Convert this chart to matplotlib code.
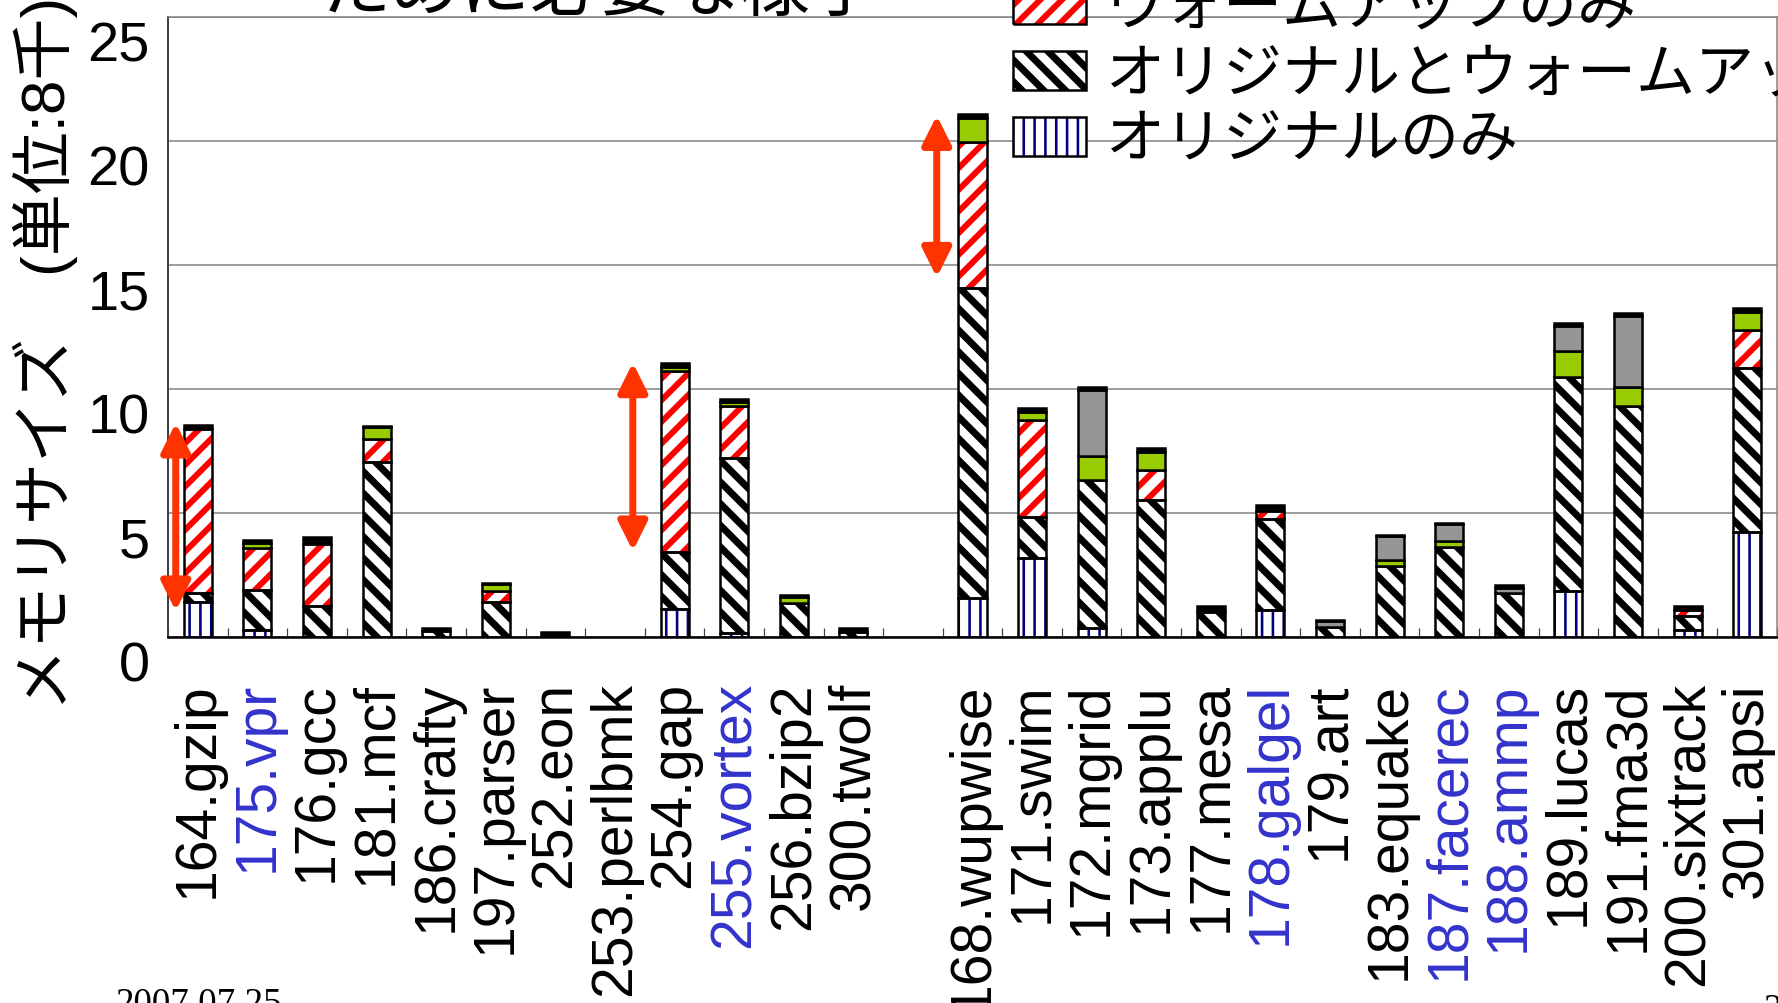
import matplotlib
matplotlib.use("Agg")
import matplotlib.pyplot as plt
import numpy as np
from matplotlib.patches import Patch, Rectangle
from matplotlib.transforms import ScaledTranslation

DPI = 130


def pt(px):
    # sizes below are thought of in output pixels
    return px * 72.0 / DPI


plt.rcParams['font.family'] = ['Liberation Sans', 'Noto Sans CJK JP', 'DejaVu Sans']

benchmarks = ["164.gzip", "175.vpr", "176.gcc", "181.mcf", "186.crafty", "197.parser",
              "252.eon", "253.perlbmk", "254.gap", "255.vortex", "256.bzip2", "300.twolf",
              "",
              "168.wupwise", "171.swim", "172.mgrid", "173.applu", "177.mesa", "178.galgel",
              "179.art", "183.equake", "187.facerec", "188.ammp", "189.lucas", "191.fma3d",
              "200.sixtrack", "301.apsi"]
highlighted = ["175.vpr", "255.vortex", "178.galgel", "187.facerec", "188.ammp"]

# memory size per benchmark, split by category (unit: 8k)
orig_only = [1.41, 0.28, 0.00, 0.00, 0.00, 0.00, 0.00, 0.00, 1.14, 0.18, 0.00, 0.00, 0.00,
             1.56, 3.19, 0.35, 0.00, 0.00, 1.10, 0.00, 0.00, 0.00, 0.00, 1.87, 0.00, 0.30, 4.23]
orig_and_warm = [0.36, 1.62, 1.25, 7.07, 0.25, 1.43, 0.00, 0.00, 2.29, 7.02, 1.38, 0.20, 0.00,
                 12.53, 1.65, 6.00, 5.52, 1.02, 3.65, 0.40, 2.88, 3.62, 1.77, 8.61, 9.33, 0.53, 6.62]
warm_only = [6.62, 1.70, 2.51, 0.90, 0.00, 0.44, 0.00, 0.00, 7.31, 2.11, 0.00, 0.00, 0.00,
             5.88, 3.91, 0.00, 1.21, 0.00, 0.32, 0.00, 0.00, 0.00, 0.00, 0.00, 0.00, 0.27, 1.52]
green_part = [0.00, 0.18, 0.00, 0.48, 0.00, 0.27, 0.00, 0.00, 0.16, 0.18, 0.22, 0.00, 0.00,
              0.96, 0.34, 0.94, 0.73, 0.00, 0.00, 0.00, 0.24, 0.26, 0.00, 1.04, 0.75, 0.00, 0.73]
gray_part = [0.00, 0.00, 0.00, 0.00, 0.00, 0.00, 0.00, 0.00, 0.00, 0.00, 0.00, 0.00, 0.00,
             0.00, 0.00, 2.65, 0.00, 0.00, 0.00, 0.25, 0.95, 0.67, 0.21, 1.01, 2.85, 0.00, 0.00]
black_part = [0.15, 0.13, 0.26, 0.05, 0.13, 0.05, 0.19, 0.00, 0.13, 0.09, 0.09, 0.18, 0.00,
              0.15, 0.15, 0.14, 0.15, 0.21, 0.24, 0.02, 0.03, 0.03, 0.13, 0.13, 0.13, 0.14, 0.15]

legend_labels = ["ウォームアップのみ", "オリジナルとウォームアップ", "オリジナルのみ"]

# double arrows marking the warm-up-only growth: (bar index, low, high)
arrow_spans = [(0, 1.05, 8.63), (8, 3.47, 11.06), (13, 14.5, 21.03)]
arrow_dx = [-0.37, -0.70, -0.60]

fig = plt.figure(figsize=(1778 / DPI, 1003 / DPI), dpi=DPI)
ax = fig.add_axes([168 / 1778, 1 - 637 / 1003, 1609 / 1778, 620 / 1003])

x = np.arange(len(benchmarks))
width = 0.47
outline = pt(2.5)

# hatch pattern -> stroke width in px
hatch_px = {'||': 2.6, '\\\\': 7.0, '//': 6.0}

series = [
    (orig_only, 'white', '#000080', '||'),
    (orig_and_warm, 'white', 'black', '\\\\'),
    (warm_only, 'white', '#FF0000', '//'),
    (green_part, '#99CC00', None, None),
    (gray_part, '#969696', None, None),
    (black_part, 'black', None, None),
]


def set_hatch_width(p, hatch):
    if hasattr(p, 'set_hatch_linewidth'):
        p.set_hatch_linewidth(pt(hatch_px[hatch]))


bottom = np.zeros(len(x))
handles = []
for vals, face, hcolor, hatch in series:
    vals = np.asarray(vals, dtype=float)
    lw = np.where(vals > 0, outline, 0.0)
    if hatch:
        with plt.rc_context({'hatch.linewidth': pt(hatch_px[hatch])}):
            bars = ax.bar(x, vals, width, bottom=bottom, facecolor=face,
                          edgecolor=hcolor, hatch=hatch, linewidth=0, zorder=2)
            for b in bars:
                set_hatch_width(b, hatch)
            fill = Patch(facecolor=face, edgecolor=hcolor, hatch=hatch, linewidth=0)
        ax.bar(x, vals, width, bottom=bottom, facecolor='none',
               edgecolor='black', linewidth=lw, zorder=3)
        handles.append((fill, Patch(facecolor='none', edgecolor='black', linewidth=outline)))
    else:
        ax.bar(x, vals, width, bottom=bottom, facecolor=face,
               edgecolor='black', linewidth=lw, zorder=3)
    bottom += vals

for (idx, lo, hi), dx in zip(arrow_spans, arrow_dx):
    ax.annotate('', xy=(idx + dx, hi), xytext=(idx + dx, lo),
                arrowprops=dict(arrowstyle='<|-|>,head_length=1.1,head_width=0.55',
                                color='#FF3300', lw=pt(7), mutation_scale=pt(22),
                                shrinkA=0, shrinkB=0), zorder=4)

ax.set_xlim(-0.5, len(x) - 0.5)
ax.set_ylim(0, 25)
ax.set_yticks(np.arange(0, 26, 5))
ax.yaxis.grid(True, color='#808080', linewidth=pt(1.5))
ax.set_axisbelow(True)

ax.set_xticks(x)
ax.set_xticklabels(benchmarks, rotation=90, fontsize=pt(57))
ax.set_xticks(np.arange(-0.5, len(x)), minor=True)
ax.tick_params(axis='x', which='major', length=0, pad=pt(45))
ax.tick_params(axis='x', which='minor', direction='in', length=pt(9),
               width=pt(1.2), color='#404040')
ax.tick_params(axis='y', length=0, pad=pt(18), labelsize=pt(56))
for lbl in ax.get_xticklabels():
    if lbl.get_text() in highlighted:
        lbl.set_color('#3333CC')
# value labels sit a little below their gridlines
for lbl in ax.get_yticklabels():
    lbl.set_transform(lbl.get_transform() + ScaledTranslation(0, -25 / DPI, fig.dpi_scale_trans))

ax.spines['left'].set_color('#404040')
ax.spines['left'].set_linewidth(pt(2))
ax.spines['bottom'].set_color('black')
ax.spines['bottom'].set_linewidth(pt(2.5))
for side in ('top', 'right'):
    ax.spines[side].set_color('#808080')
    ax.spines[side].set_linewidth(pt(1.5))

leg = ax.legend(handles[::-1], legend_labels, loc='upper left',
                bbox_to_anchor=(1013 / 1778, 1 + 18 / 1003), bbox_transform=fig.transFigure,
                frameon=False, fontsize=pt(59), handlelength=1.24, handleheight=0.63,
                handletextpad=0.34, labelspacing=0.19, borderpad=0, borderaxespad=0)
for p in leg.findobj(Rectangle):
    if p.get_hatch() in hatch_px:
        set_hatch_width(p, p.get_hatch())

fig.text(45 / 1778, 1 - 353 / 1003, "メモリサイズ\u3000(単位:8千)", rotation=90,
         ha='center', va='center', fontsize=pt(62))
fig.text(321 / 1778, 1 - 10 / 1003, "ために必要な様子", ha='left', va='baseline',
         fontsize=pt(70))
fig.text(115 / 1778, 1 - 988 / 1003, "2007.07.25", ha='left', va='top',
         fontsize=pt(37), family='Liberation Serif')
fig.text(1763 / 1778, 1 - 993 / 1003, "2", ha='left', va='top',
         fontsize=pt(37), family='Liberation Serif')

fig.savefig("out.png", dpi=DPI, facecolor='white')
